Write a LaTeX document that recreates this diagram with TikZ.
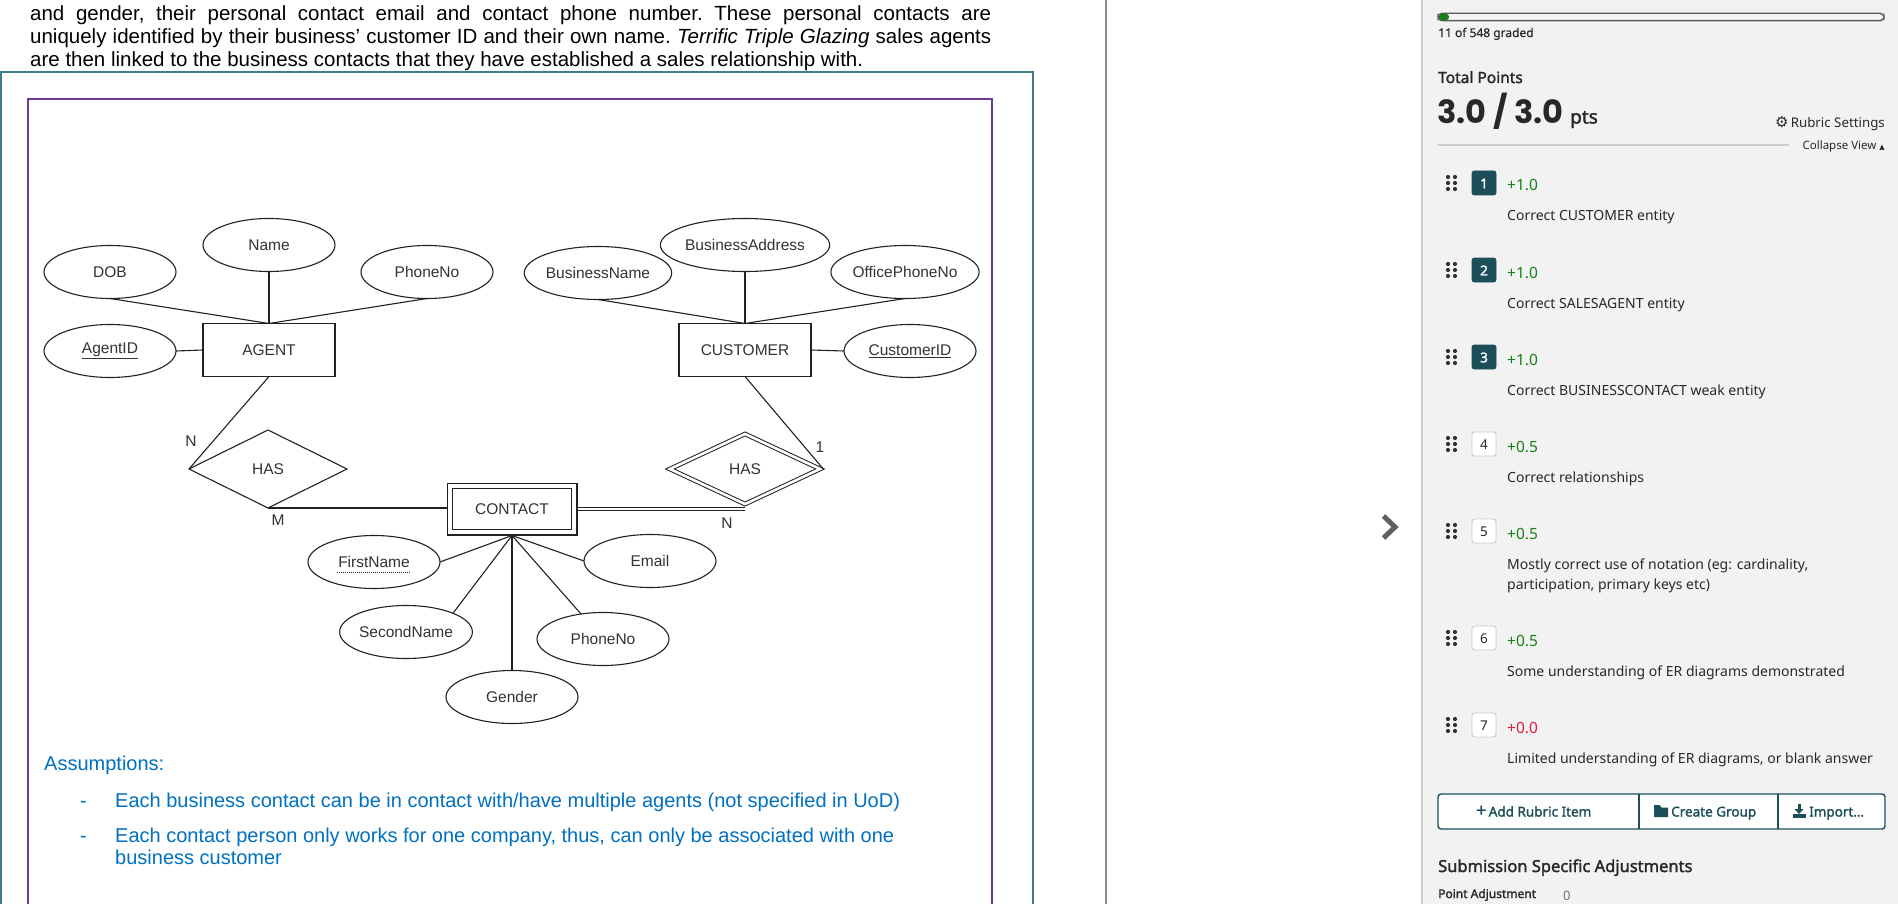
\documentclass[tikz,border=0pt]{standalone}
\usepackage{fontspec}
\setmainfont{Liberation Sans}
\newfontfamily\notosans{Noto Sans}
\newfontfamily\notosemi{Noto Sans}[FakeBold=1.8]
\newfontfamily\notolight{Noto Sans}[FakeBold=0.6]
\newfontfamily\poppinsfont{Poppins}
\newfontfamily\dejavufont{DejaVu Sans}
\usetikzlibrary{shapes.geometric}

\definecolor{tealbox}{RGB}{66,124,136}
\definecolor{purplebox}{RGB}{106,60,152}
\definecolor{ink}{RGB}{51,51,51}
\definecolor{lineink}{RGB}{34,34,34}
\definecolor{asblue}{RGB}{0,112,192}
\definecolor{panelbg}{RGB}{242,242,242}
\definecolor{panelline}{RGB}{204,204,204}
\definecolor{gsteal}{RGB}{29,79,91}
\definecolor{gsgreen}{RGB}{19,130,19}
\definecolor{gsred}{RGB}{214,34,60}
\definecolor{gstext}{RGB}{40,40,40}
\definecolor{gsdots}{RGB}{51,51,51}
\definecolor{boxgray}{RGB}{200,200,200}
\definecolor{divider}{RGB}{140,140,140}

\tikzset{
  erfont/.style={font=\fontsize{15.5}{18}\selectfont, text=ink},
  erattr/.style={ellipse, draw=lineink, line width=1.1pt, minimum width=132pt, minimum height=53pt, inner sep=0pt, outer sep=0pt, erfont},
  erentity/.style={rectangle, draw=lineink, line width=1.1pt, minimum width=132pt, minimum height=53pt, inner sep=0pt, outer sep=0pt, erfont},
  erweak/.style={rectangle, draw=lineink, line width=1.1pt, double, double distance=4.5pt, minimum width=124.3pt, minimum height=46.3pt, inner sep=0pt, outer sep=3.35pt, erfont},
  errel/.style={diamond, draw=lineink, line width=1.1pt, minimum width=158pt, minimum height=78pt, inner sep=0pt, outer sep=0pt, erfont},
  erweakrel/.style={diamond, draw=lineink, line width=1pt, double, double distance=2.6pt, minimum width=152pt, minimum height=72pt, inner sep=0pt, outer sep=2.3pt, erfont},
  erconn/.style={draw=lineink, line width=1.1pt},
  ercard/.style={erfont, inner sep=0pt},
  doctext/.style={font=\frenchspacing\fontsize{20.5}{24}\selectfont, text=black, inner sep=0pt, anchor=base west},
  asmtext/.style={font=\frenchspacing\fontsize{20}{24}\selectfont, text=asblue, inner sep=0pt, anchor=base west},
  gsnum/.style={font=\notosans\fontsize{13.5}{14}\selectfont, inner sep=0pt},
  gsnumbf/.style={font=\notosemi\fontsize{13.5}{14}\selectfont, inner sep=0pt},
  gsvalue/.style={font=\notosans\fontsize{15.5}{18}\selectfont, inner sep=0pt, anchor=base west},
  gsdesc/.style={font=\notosans\fontsize{14}{17}\selectfont, text=gstext, inner sep=0pt, anchor=base west},
  gsbtn/.style={font=\notosemi\fontsize{13.5}{16}\selectfont, text=gsteal, inner sep=0pt, anchor=base west},
}

\newcommand{\rubricitem}[9]{%
  \foreach \dx in {1448,1455}{\foreach \dy in {-6,0,6}{\fill[gsdots] ({\dx},{#1+\dy}) circle[radius=2.1pt];}}
  \filldraw[fill=#5, draw=#6, line width=0.9pt, rounded corners=2.5pt] (1472,{#1-12}) rectangle (1496,{#1+12});
  \node[#9, text=#7] (rn#2) at (1484,{#1+0.5}) {#2};
  \node[gsvalue, text=#4] (rv#2) at (1507,{#1+8}) {#3};
  \node[gsdesc] (rd#2) at (1507,{#1+38}) {#8};
}

\begin{document}
\begin{tikzpicture}[x=1pt,y=-1pt]
\useasboundingbox (0,0) rectangle (1898,904);
\fill[white] (0,0) rectangle (1898,904);

% ---------- document page ----------
\node[doctext] (t1) at (30,21) {\makebox[961pt][s]{and gender, their personal contact email and contact phone number. These personal contacts are}};
\node[doctext] (t2) at (30,44) {\makebox[961pt][s]{uniquely identified by their business’ customer ID and their own name. \textit{Terrific Triple Glazing} sales agents}};
\node[doctext] (t3) at (30,67) {are then linked to the business contacts that they have established a sales relationship with.};

\draw[tealbox, line width=1.3pt] (1,910) -- (1,72) -- (1033,72) -- (1033,910);
\draw[purplebox, line width=2pt] (28,910) -- (28,99) -- (992,99) -- (992,910);

% ---------- ER diagram ----------
\node[erattr] (dob) at (110,272) {DOB};
\node[erattr] (aname) at (269,245) {Name};
\node[erattr] (aphone) at (427,272) {PhoneNo};
\node[erattr] (agentid) at (110,351) {\underline{AgentID}};
\node[erentity] (agent) at (269,350) {AGENT};

\node[erattr] (bname) at (598,273) {BusinessName};
\node[erattr] (baddr) at (745,245) {BusinessAddress};
\node[erattr] (ophone) at (905,272) {OfficePhoneNo};
\node[erentity] (customer) at (745,350) {CUSTOMER};
\node[erattr] (custid) at (910,351) {\underline{CustomerID}};

\node[errel] (lhas) at (268,469) {HAS};
\node[erweakrel] (rhas) at (745,469) {HAS};
\node[erweak] (contact) at (512,509) {CONTACT};

\node[erattr] (fname) at (374,562) {FirstName};
\node[erattr] (sname) at (406,632) {SecondName};
\node[erattr] (gender) at (512,697) {Gender};
\node[erattr] (cphone) at (603,639) {PhoneNo};
\node[erattr] (email) at (650,561) {Email};

\draw[lineink, line width=0.9pt, dash pattern=on 1pt off 1pt] ([shift={(-37,10)}]fname.center) -- ([shift={(37,10)}]fname.center);

\node[ercard] (lN) at (191,441) {N};
\node[ercard] (lM) at (278,520) {M};
\node[ercard] (r1) at (820,447) {1};
\node[ercard] (rN) at (727,523) {N};

\draw[erconn] (dob.south) -- (agent.north);
\draw[erconn] (aname.south) -- (agent.north);
\draw[erconn] (aphone.south) -- (agent.north);
\draw[erconn] (agentid.east) -- (agent.west);
\draw[erconn] (bname.south) -- (customer.north);
\draw[erconn] (baddr.south) -- (customer.north);
\draw[erconn] (ophone.south) -- (customer.north);
\draw[erconn] (custid.west) -- (customer.east);
\draw[erconn] (agent.south) -- (lhas.west);
\draw[erconn] (lhas.south) -- (lhas.south -| contact.west);
\draw[erconn] (customer.south) -- (rhas.east);
\draw[draw=lineink, line width=1pt, double, double distance=2.6pt] (contact.east) -- (contact.east -| rhas.south);
\draw[erconn] (contact.south) -- (fname.east);
\draw[erconn] (contact.south) -- (sname.north east);
\draw[erconn] (contact.south) -- (gender.north);
\draw[erconn] (contact.south) -- (cphone);
\draw[erconn] (contact.south) -- (email.west);

% ---------- assumptions ----------
\node[asmtext] (asm0) at (44,770) {Assumptions:};
\node[asmtext] (dash1) at (80,807) {-};
\node[asmtext] (asm1) at (115,807) {Each business contact can be in contact with/have multiple agents (not specified in UoD)};
\node[asmtext] (dash2) at (80,842) {-};
\node[asmtext] (asm2) at (115,842) {Each contact person only works for one company, thus, can only be associated with one};
\node[asmtext] (asm3) at (115,864) {business customer};

% ---------- divider and chevron ----------
\draw[divider, line width=2pt] (1105.5,0) -- (1105.5,904);
\draw[gray!75!black, line width=5pt, miter limit=10] (1383.5,516) -- (1395,527) -- (1383.5,538);

% ---------- grading panel ----------
\fill[panelbg] (1422,0) rectangle (1898,904);
\draw[panelline, line width=2pt] (1422,0) -- (1422,904);

\filldraw[fill=white!96!black, draw=gray!70!black, line width=1.4pt, rounded corners=4pt] (1438,13.3) rectangle (1884,20.7);
\fill[gsgreen, rounded corners=3pt] (1439,13.8) rectangle (1449,20.2);
\node[font=\notolight\fontsize{12}{14}\selectfont, text=gstext, inner sep=0pt, anchor=base west] (graded) at (1438,37) {11 of 548 graded};

\node[font=\notosemi\fontsize{15.5}{18}\selectfont, text=gstext, inner sep=0pt, anchor=base west] (totalpts) at (1438,83) {Total Points};
\node[font=\poppinsfont\bfseries\fontsize{32}{36}\selectfont, text=gstext, inner sep=0pt, anchor=base west] (score) at (1437,123.5) {3.0 / 3.0};
\node[font=\notosemi\fontsize{19}{22}\selectfont, text=gstext, inner sep=0pt, anchor=base west] (ptsunit) at (1570,123.5) {pts};

\node[font=\notosans\fontsize{13.3}{16}\selectfont, text=gstext, inner sep=0pt, anchor=base east] (rubset) at (1885,127.5) {{\dejavufont\fontsize{15}{15}\selectfont ⚙}\,Rubric Settings};
\draw[panelline, line width=1.6pt] (1438,145) -- (1789,145);
\node[font=\notosans\fontsize{11.5}{14}\selectfont, text=gstext, inner sep=0pt, anchor=base east] (collapse) at (1885,149.5) {Collapse View {\dejavufont\fontsize{7}{8}\selectfont ▲}};

\rubricitem{183}{1}{+1.0}{gsgreen}{gsteal}{gsteal}{white}{Correct CUSTOMER entity}{gsnumbf}
\rubricitem{270}{2}{+1.0}{gsgreen}{gsteal}{gsteal}{white}{Correct SALESAGENT entity}{gsnumbf}
\rubricitem{357}{3}{+1.0}{gsgreen}{gsteal}{gsteal}{white}{Correct BUSINESSCONTACT weak entity}{gsnumbf}
\rubricitem{444}{4}{+0.5}{gsgreen}{white}{boxgray}{gstext}{Correct relationships}{gsnum}
\rubricitem{531}{5}{+0.5}{gsgreen}{white}{boxgray}{gstext}{Mostly correct use of notation (eg: cardinality,}{gsnum}
\node[gsdesc] (rd5b) at (1507,589) {participation, primary keys etc)};
\rubricitem{638}{6}{+0.5}{gsgreen}{white}{boxgray}{gstext}{Some understanding of ER diagrams demonstrated}{gsnum}
\rubricitem{725}{7}{+0.0}{gsred}{white}{boxgray}{gstext}{Limited understanding of ER diagrams, or blank answer}{gsnum}

% buttons
\filldraw[fill=white, draw=gsteal, line width=1.4pt, rounded corners=3pt] (1438,794) rectangle (1885,829);
\draw[gsteal, line width=1.4pt] (1639,794) -- (1639,829);
\draw[gsteal, line width=1.4pt] (1778,794) -- (1778,829);
\node[gsbtn] (badd) at (1476,816.5) {{\fontsize{18}{18}\selectfont +}\,Add Rubric Item};
\node[gsbtn] (bgroup) at (1671,816.5) {Create Group};
\fill[gsteal] (1654,805) -- (1659.5,805) -- (1661.5,807.5) -- (1668,807.5) -- (1668,817) -- (1654,817) -- cycle;
\node[gsbtn] (bimport) at (1809,816.5) {Import…};
\fill[gsteal] (1797.5,803.5) rectangle (1800.5,809.5);
\fill[gsteal] (1794.5,809) -- (1803.5,809) -- (1799,814) -- cycle;
\fill[gsteal] (1793,813.5) rectangle (1805.5,817.5);

\node[font=\notosemi\fontsize{16.5}{20}\selectfont, text=gstext, inner sep=0pt, anchor=base west] (subadj) at (1438,872) {Submission Specific Adjustments};
\node[font=\notosemi\fontsize{12}{14}\selectfont, text=gstext, inner sep=0pt, anchor=base west] (ptadj) at (1438,898) {Point Adjustment};
\node[font=\notosans\fontsize{13}{14}\selectfont, text=gray!90!black, inner sep=0pt, anchor=base west] (ptzero) at (1563,900) {0};
\end{tikzpicture}
\end{document}
